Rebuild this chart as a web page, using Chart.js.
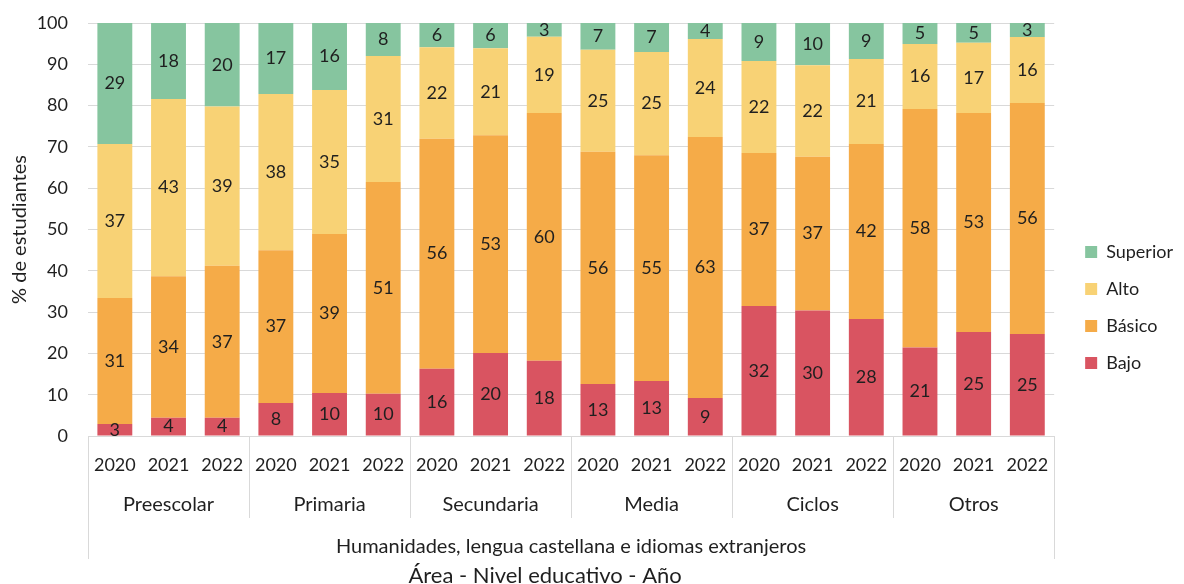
<!DOCTYPE html>
<html>
<head>
<meta charset="utf-8">
<script src="https://cdn.jsdelivr.net/npm/chart.js@4"></script>
<style>
  html, body { margin: 0; padding: 0; background: #fff; }
  #wrap { width: 1184px; height: 584px; }
</style>
</head>
<body>
<div id="wrap"><canvas id="chart"></canvas></div>
<script>
// years under each bar, grouped by level
var years = ['2020', '2021', '2022', '2020', '2021', '2022', '2020', '2021', '2022',
             '2020', '2021', '2022', '2020', '2021', '2022', '2020', '2021', '2022'];
var levels = ['Preescolar', 'Primaria', 'Secundaria', 'Media', 'Ciclos', 'Otros'];
var area = 'Humanidades, lengua castellana e idiomas extranjeros';
var axisTitle = 'Área - Nivel educativo - Año';

// % de estudiantes por nivel de desempeño
var bajo     = [2.9, 4.4, 4.4, 8.0, 10.4, 10.2, 16.3, 20.1, 18.2, 12.6, 13.3, 9.2, 31.5, 30.4, 28.3, 21.4, 25.2, 24.7];
var basico   = [30.5, 34.3, 36.8, 37.0, 38.5, 51.3, 55.7, 52.7, 60.0, 56.2, 54.7, 63.2, 37.0, 37.2, 42.4, 57.8, 53.0, 55.9];
var alto     = [37.3, 42.9, 38.6, 37.8, 34.9, 30.5, 22.1, 21.1, 18.5, 24.7, 25.0, 23.7, 22.3, 22.2, 20.6, 15.7, 17.0, 16.0];
var superior = [29.3, 18.4, 20.2, 17.2, 16.2, 8.0, 5.9, 6.1, 3.3, 6.5, 7.0, 3.9, 9.2, 10.2, 8.7, 5.1, 4.8, 3.4];

var textColor = '#1f1f1f';
var lineColor = '#d9d9d9';
var fontFamily = 'Lato, "Open Sans", sans-serif';

// numbers in the middle of each segment
var segmentLabels = {
    id: 'segmentLabels',
    afterDatasetsDraw: function(chart) {
        var ctx = chart.ctx;
        ctx.save();
        ctx.font = '18px ' + fontFamily;
        ctx.fillStyle = textColor;
        ctx.textAlign = 'center';
        ctx.textBaseline = 'middle';
        chart.data.datasets.forEach(function(ds, di) {
            chart.getDatasetMeta(di).data.forEach(function(bar, i) {
                var y = (bar.y + bar.base) / 2;
                ctx.fillText(Math.round(ds.data[i]), bar.x, y);
            });
        });
        ctx.restore();
    }
};

// level names, area name, separators and axis title under the years
var groupAxis = {
    id: 'groupAxis',
    afterDraw: function(chart) {
        var ctx = chart.ctx;
        var x = chart.scales.x;
        var ca = chart.chartArea;
        var bottom = ca.bottom;
        ctx.save();
        ctx.strokeStyle = lineColor;
        ctx.lineWidth = 1;

        function vline(px, y2) {
            ctx.beginPath();
            ctx.moveTo(Math.round(px) + 0.5, bottom);
            ctx.lineTo(Math.round(px) + 0.5, y2);
            ctx.stroke();
        }
        vline(ca.left, bottom + 123);
        vline(ca.right, bottom + 123);
        for (var g = 1; g < levels.length; g++) {
            var sep = (x.getPixelForValue(g * 3 - 1) + x.getPixelForValue(g * 3)) / 2;
            vline(sep, bottom + 82);
        }

        ctx.fillStyle = textColor;
        ctx.textAlign = 'center';
        ctx.textBaseline = 'middle';
        ctx.font = '20px ' + fontFamily;
        levels.forEach(function(name, g) {
            var cx = (x.getPixelForValue(g * 3) + x.getPixelForValue(g * 3 + 2)) / 2;
            ctx.fillText(name, cx, bottom + 69);
        });
        ctx.fillText(area, (ca.left + ca.right) / 2, bottom + 111);
        ctx.font = '22px ' + fontFamily;
        ctx.fillText(axisTitle, (ca.left + ca.right) / 2 - 26, bottom + 140);
        ctx.restore();
    }
};

var ctx = document.getElementById('chart').getContext('2d');
var chart = new Chart(ctx, {
    type: 'bar',
    data: {
        labels: years,
        datasets: [
            { label: 'Bajo', data: bajo, backgroundColor: '#d95461' },
            { label: 'Básico', data: basico, backgroundColor: '#f5ab48' },
            { label: 'Alto', data: alto, backgroundColor: '#f8d275' },
            { label: 'Superior', data: superior, backgroundColor: '#86c59f' }
        ]
    },
    options: {
        responsive: true,
        maintainAspectRatio: false,
        animation: false,
        layout: { padding: { top: 0, right: 1, bottom: 0, left: 0 } },
        datasets: {
            bar: { barPercentage: 0.65, categoryPercentage: 1 }
        },
        scales: {
            x: {
                stacked: true,
                grid: { display: false, drawTicks: false },
                border: { display: false },
                ticks: {
                    color: textColor,
                    font: { family: fontFamily, size: 18 },
                    padding: 18,
                    maxRotation: 0,
                    autoSkip: false
                },
                afterFit: function(s) { s.height = 148; }
            },
            y: {
                stacked: true,
                min: 0,
                max: 100,
                grid: { color: lineColor, drawTicks: false },
                border: { display: false },
                ticks: {
                    stepSize: 10,
                    color: textColor,
                    font: { family: fontFamily, size: 18 },
                    padding: 20
                },
                title: {
                    display: true,
                    text: '% de estudiantes',
                    color: textColor,
                    font: { family: fontFamily, size: 20 },
                    padding: { top: 8, bottom: 0 }
                },
                afterFit: function(s) {
                    s.width = 88;
                    s.paddingTop = 23;
                    s.paddingBottom = 0;
                }
            },
            // empty spacer between plot and legend
            gap: {
                position: 'right',
                grid: { display: false },
                border: { display: false },
                ticks: { display: false },
                afterFit: function(s) { s.width = 12; }
            }
        },
        plugins: {
            legend: {
                position: 'right',
                reverse: true,
                title: { display: true, text: '', font: { size: 1 }, padding: { top: 30, bottom: 0 } },
                labels: {
                    color: textColor,
                    font: { family: fontFamily, size: 18 },
                    boxWidth: 12,
                    boxHeight: 12,
                    padding: 19
                }
            },
            tooltip: { enabled: false }
        }
    },
    plugins: [segmentLabels, groupAxis]
});
</script>
</body>
</html>
